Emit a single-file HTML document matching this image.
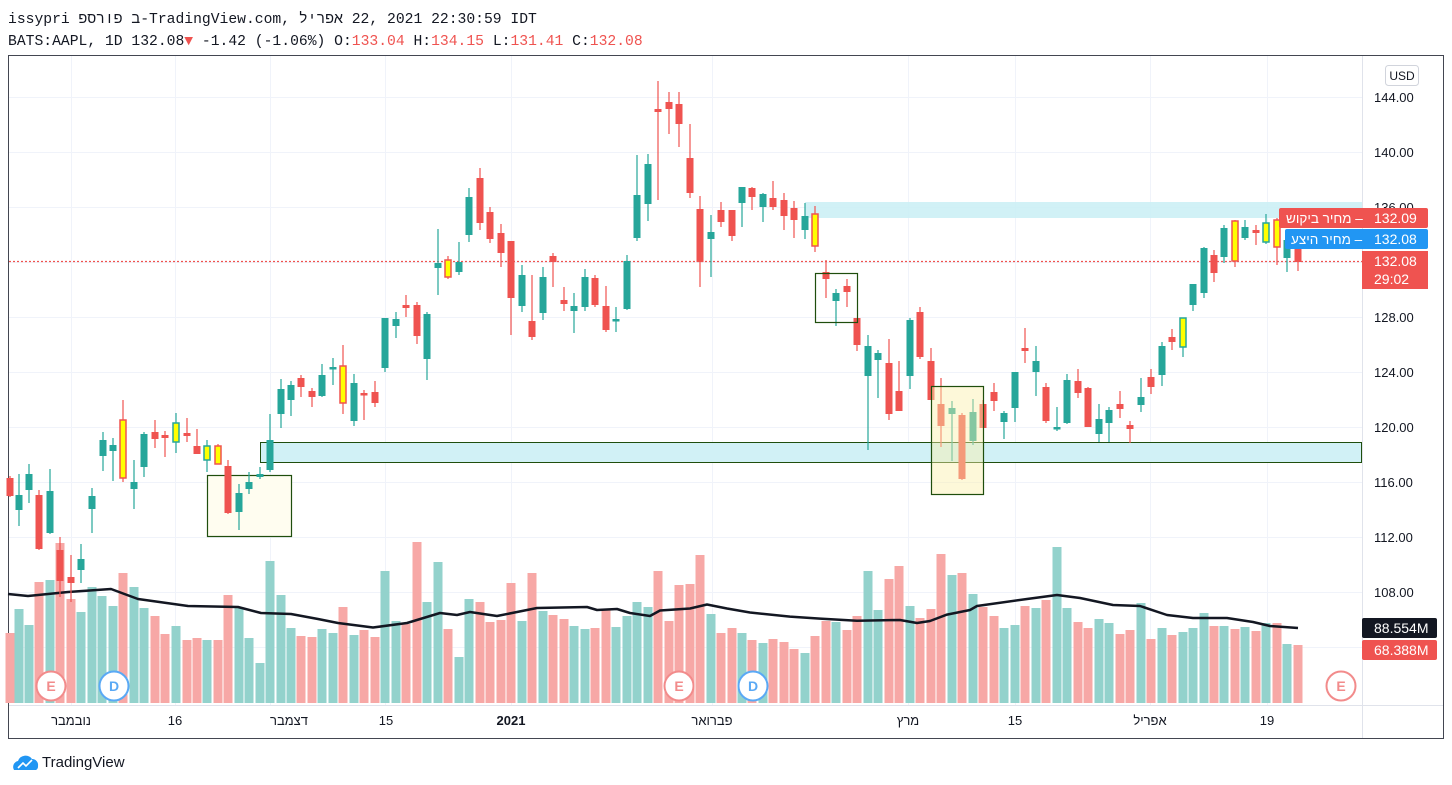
<!DOCTYPE html>
<html><head><meta charset="utf-8"><style>
html,body{margin:0;padding:0;background:#fff;width:1452px;height:785px;overflow:hidden}
svg{position:absolute;left:0;top:0}
text{font-family:"Liberation Sans",sans-serif}
.hd{font-family:"Liberation Mono","DejaVu Sans Mono",monospace;font-size:14.7px;fill:#131722}
.ax{font-size:13px;fill:#131722}
</style></head><body>
<svg width="1452" height="785" viewBox="0 0 1452 785" xmlns="http://www.w3.org/2000/svg">
<text class="hd" x="8" y="23" direction="ltr" unicode-bidi="bidi-override">issypri פסרופ ב-TradingView.com,  לירפא 22, 2021 22:30:59 IDT</text>
<text class="hd" x="8" y="45">BATS:AAPL, 1D 132.08<tspan fill="#ef5350">▼</tspan> -1.42 (-1.06%) O:<tspan fill="#ef5350">133.04</tspan> H:<tspan fill="#ef5350">134.15</tspan> L:<tspan fill="#ef5350">131.41</tspan> C:<tspan fill="#ef5350">132.08</tspan></text>
<rect x="8.5" y="55.5" width="1435" height="683" fill="#fff" stroke="#434651" stroke-width="1"/>
<g stroke="#f0f3fa" stroke-width="1">
<path d="M9 97.5H1362M9 152.5H1362M9 207.5H1362M9 262.5H1362M9 317.5H1362M9 372.5H1362M9 427.5H1362M9 482.5H1362M9 537.5H1362M9 592.5H1362M9 647.5H1362"/>
<path d="M71.5 56V705M175.5 56V705M270.5 56V705M385.5 56V705M511.5 56V705M712.5 56V705M908.5 56V705M1015.5 56V705M1150.5 56V705M1267.5 56V705"/>
</g>
<line x1="1362.5" y1="56" x2="1362.5" y2="738" stroke="#e0e3eb"/>
<line x1="9" y1="705.5" x2="1443" y2="705.5" stroke="#e0e3eb"/>
<rect x="805" y="202" width="557" height="16" fill="#c9eef4" opacity="0.85"/>
<rect x="260.5" y="442.5" width="1101" height="20" fill="#d1f1f6" stroke="#1f4e0d" stroke-width="1"/>
<rect x="207.5" y="475.5" width="84" height="61" fill="#fffdf0" stroke="#1f4e0d" stroke-width="1.2"/>
<path fill="none" stroke="#93d2cc" stroke-width="9" d="M19 609V703M29 625V703M50 580V703M81 612V703M92 587V703M102 596V703M113 606V703M134 587V703M144 608V703M176 626V703M207 640V703M239 607V703M249 638V703M260 663V703M270 561V703M281 595V703M291 628V703M322 629V703M333 633V703M354 635V703M385 571V703M396 621V703M427 602V703M438 562V703M459 657V703M469 599V703M522 621V703M543 611V703M574 626V703M585 629V703M616 627V703M627 616V703M637 602V703M648 607V703M711 614V703M742 633V703M763 643V703M805 653V703M836 622V703M868 571V703M878 610V703M910 606V703M952 575V703M973 594V703M1004 628V703M1015 625V703M1036 608V703M1057 547V703M1067 608V703M1099 619V703M1109 623V703M1141 603V703M1162 628V703M1183 632V703M1193 628V703M1204 613V703M1224 626V703M1245 627V703M1266 623V703M1287 644V703"/>
<path fill="none" stroke="#f7a8a6" stroke-width="9" d="M10 633V703M39 582V703M60 543V703M71 599V703M123 573V703M155 616V703M165 634V703M187 640V703M197 638V703M218 640V703M228 595V703M301 636V703M312 637V703M343 607V703M364 630V703M375 637V703M406 624V703M417 542V703M448 629V703M480 602V703M490 622V703M501 620V703M511 583V703M532 573V703M553 615V703M564 619V703M595 628V703M606 610V703M658 571V703M669 621V703M679 585V703M690 584V703M700 555V703M721 633V703M732 628V703M752 640V703M773 639V703M784 642V703M794 649V703M815 636V703M826 621V703M847 630V703M857 616V703M889 579V703M899 566V703M920 618V703M931 609V703M941 554V703M962 573V703M983 607V703M994 616V703M1025 606V703M1046 600V703M1078 622V703M1088 628V703M1120 634V703M1130 630V703M1151 639V703M1172 635V703M1214 626V703M1235 629V703M1256 631V703M1277 623V703M1298 645V703"/>
<polyline fill="none" stroke="#131722" stroke-width="2.5" stroke-linejoin="round" points="8,594 28,596 68,592 111,589 138,599 188,606 238,607 261,613 291,614 318,619 338,623 373,627.5 407,623 440,613 457,615 470,612 497,616 517,612 537,608 587,607 597,610 617,609 630,613 650,616 660,610.5 690,608.5 707,604.5 727,608.5 750,612.5 790,616.6 820,618.6 857,620.7 900,620 917,623 930,621 947,614.6 970,610 977,606 1027,599 1057,595 1080,598 1113,605 1140,606 1167,615 1193,618 1227,618 1253,622 1270,626 1298,628"/>
<line x1="9" y1="261.5" x2="1362" y2="261.5" stroke="#ef5350" stroke-width="1.2" stroke-dasharray="2,2"/>
<path fill="none" stroke="#26a69a" stroke-width="1.2" d="M19 474V526M29 464V503M50 469V534M81 544V583M92 488V533M103 432V471M113 438V481M134 460V509M144 432V477M176 413V453M207 440V472M239 484V530M249 472V494M260 467V479M270 414V472M281 379V428M291 381V416M322 364V397M333 358V385M354 374V426M385 318V372M396 312V338M427 312V380M438 229V295M459 242V275M469 188V242M522 265V312M543 267V320M574 293V333M585 269V311M616 307V332M627 255V310M637 155V241M648 154V221M711 215V277M742 187V227M763 193V222M805 203V239M836 289V326M868 335V450M878 350V398M910 318V389M952 401V461M973 399V445M1004 411V439M1015 372V422M1036 346V396M1057 407V431M1067 374V424M1099 404V442M1109 407V442M1141 378V412M1162 342V386M1183 318V357M1193 284V311M1204 247V298M1224 225V263M1245 220V240M1266 214V244M1287 240V272"/>
<path fill="none" stroke="#ef5350" stroke-width="1.2" d="M10 476V497M39 490V550M60 537V597M71 555V602M123 400V482M155 420V448M165 431V457M187 418V442M197 429V454M218 444V464M228 460V514M301 375V397M312 388V407M343 345V414M364 390V420M375 381V407M406 295V317M417 302V344M448 256V279M480 168V230M490 207V243M501 224V267M511 241V335M532 275V340M553 253V287M564 287V311M595 275V307M606 286V332M658 81V200M669 92V134M679 92V147M690 124V198M700 196V287M721 202V227M732 210V241M752 187V210M773 181V210M784 193V230M794 201V238M815 206V252M826 260V298M847 279V307M857 318V351M889 339V420M899 361V411M920 307V359M931 348V400M941 378V447M962 413V480M983 400V428M994 383V411M1025 328V363M1046 383V423M1078 369V398M1088 387V427M1120 391V418M1130 421V443M1151 369V394M1172 329V350M1214 250V282M1235 220V267M1256 225V245M1277 218V265M1298 248V271"/>
<path fill="none" stroke="#26a69a" stroke-width="7" d="M19 495V510M29 474V490M50 491V533M81 559V570M92 496V509M103 440V456M113 445V451M134 482V489M144 434V467M239 493V512M249 482V489M260 474V477M270 440V470M281 389V414M291 385V400M322 375V396M333 367V369.5M354 383V421M385 318V368M396 319V326M427 314V359M438 263V268M459 262V272M469 197V235M522 275V306M543 277V313M574 306V311M585 277V307M616 319V321.5M627 261V309M637 195V238M648 164V204M711 232V239M742 187V203M763 194V207M805 216V230M836 293V301M868 346V376M878 353V360M910 320V376M952 408V414M973 412V441M1004 413V422M1015 372V408M1036 361V372M1057 427V429.5M1067 380V423M1099 419V434M1109 410V423M1141 397V405M1162 346V375M1193 284V305M1204 248V293M1224 228V257M1245 227V238M1287 240V258"/>
<path fill="none" stroke="#ef5350" stroke-width="7" d="M10 478V496M39 495V549M60 550V581M71 577V583M155 432V439M165 435V438M187 433V436M197 446V454M228 466V513M301 378V387M312 391V397M364 393V395.5M375 392V403M406 305V308M417 305V336M480 178V223M490 212V239M501 233V253M511 241V298M532 321V337M553 256V262M564 300V304M595 278V305M606 306V330M658 109V112M669 102V109M679 104V124M690 158V193M700 209V262M721 210V222M732 210V236M752 188V197M773 198V207M784 200V216M794 208V220M826 272V279M847 286V292M857 318V345M889 363V414M899 391V411M920 312V357M931 361V400M941 404V426M962 415V479M983 404V428M994 392V401M1025 348V351M1046 387V421M1078 381V393M1088 388V427M1120 404V409M1130 425V429M1151 377V387M1172 337V342M1214 255V273M1256 230V233M1298 248V262"/>
<g fill="#ffff00" stroke-width="1.5">
<rect x="120" y="420" width="6" height="58" stroke="#ef5350"/>
<rect x="173" y="423" width="6" height="19" stroke="#26a69a"/>
<rect x="204" y="446" width="6" height="14" stroke="#26a69a"/>
<rect x="215" y="446" width="6" height="18" stroke="#ef5350"/>
<rect x="340" y="366" width="6" height="37" stroke="#ef5350"/>
<rect x="445" y="260" width="6" height="17" stroke="#ef5350"/>
<rect x="812" y="214" width="6" height="32" stroke="#ef5350"/>
<rect x="1180" y="318" width="6" height="29" stroke="#26a69a"/>
<rect x="1232" y="221" width="6" height="40" stroke="#ef5350"/>
<rect x="1263" y="223" width="6" height="19" stroke="#26a69a"/>
<rect x="1274" y="220" width="6" height="27" stroke="#ef5350"/>
</g>
<rect x="815.5" y="273.5" width="42" height="49" fill="none" stroke="#1f4e0d" stroke-width="1.2"/>
<rect x="931.5" y="386.5" width="52" height="108" fill="rgba(250,240,170,0.45)" stroke="#1f4e0d" stroke-width="1.2"/>
<line x1="260.5" y1="442" x2="260.5" y2="463" stroke="#1f4e0d"/>
<g font-size="14" text-anchor="middle" font-weight="bold">
<circle cx="51" cy="686" r="14.5" fill="#fff" stroke="#f28b8b" stroke-width="2"/><text x="51" y="691" fill="#f28b8b">E</text>
<circle cx="114" cy="686" r="14.5" fill="#fff" stroke="#5aa9f5" stroke-width="2"/><text x="114" y="691" fill="#5aa9f5">D</text>
<circle cx="679" cy="686" r="14.5" fill="#fff" stroke="#f28b8b" stroke-width="2"/><text x="679" y="691" fill="#f28b8b">E</text>
<circle cx="753" cy="686" r="14.5" fill="#fff" stroke="#5aa9f5" stroke-width="2"/><text x="753" y="691" fill="#5aa9f5">D</text>
<circle cx="1341" cy="686" r="14.5" fill="#fff" stroke="#f28b8b" stroke-width="2"/><text x="1341" y="691" fill="#f28b8b">E</text>
</g>
<g class="ax" text-anchor="start">
<text x="1374" y="102">144.00</text><text x="1374" y="157">140.00</text><text x="1374" y="212">136.00</text>
<text x="1374" y="322">128.00</text><text x="1374" y="377">124.00</text><text x="1374" y="432">120.00</text>
<text x="1374" y="487">116.00</text><text x="1374" y="542">112.00</text><text x="1374" y="597">108.00</text>
</g>
<rect x="1385.5" y="65.5" width="33" height="20" rx="3" fill="#fff" stroke="#d1d4dc"/>
<text x="1402" y="80" font-size="12" text-anchor="middle" fill="#131722">USD</text>
<rect x="1279" y="208" width="149" height="20" rx="2" fill="#ef5350"/>
<text x="1286" y="223" font-size="13.5" fill="#fff">מחיר ביקוש  –  </text>
<text x="1374" y="223" font-size="14" fill="#fff">132.09</text>
<rect x="1285" y="229" width="143" height="20" rx="2" fill="#2196f3"/>
<text x="1291" y="244" font-size="13.5" fill="#fff">מחיר היצע  –  </text>
<text x="1374" y="244" font-size="14" fill="#fff">132.08</text>
<rect x="1362" y="251" width="66" height="38" fill="#ef5350"/>
<text x="1374" y="266" font-size="14" fill="#fff">132.08</text>
<text x="1374" y="284" font-size="14" fill="#fff">29:02</text>
<rect x="1362" y="618" width="75" height="20" rx="2" fill="#131722"/>
<text x="1374" y="633" font-size="14" fill="#fff">88.554M</text>
<rect x="1362" y="640" width="75" height="20" rx="2" fill="#ef5350"/>
<text x="1374" y="655" font-size="14" fill="#fff">68.388M</text>
<g class="ax" text-anchor="middle">
<text x="71" y="725">נובמבר</text><text x="175" y="725">16</text><text x="289" y="725">דצמבר</text>
<text x="386" y="725">15</text><text x="511" y="725" font-weight="bold">2021</text><text x="712" y="725">פברואר</text>
<text x="908" y="725">מרץ</text><text x="1015" y="725">15</text><text x="1150" y="725">אפריל</text><text x="1267" y="725">19</text>
</g>
<path d="M14 770 a6 6 0 0 1 4-9 a8 8 0 0 1 14-2 a6 6 0 0 1 6 7 a4 4 0 0 1-2 4z" fill="#2196f3"/>
<path d="M18 768l5-5 3 3 6-6" fill="none" stroke="#fff" stroke-width="1.6"/>
<text x="42" y="767" font-size="15" fill="#131722">TradingView</text>
</svg>
</body></html>
